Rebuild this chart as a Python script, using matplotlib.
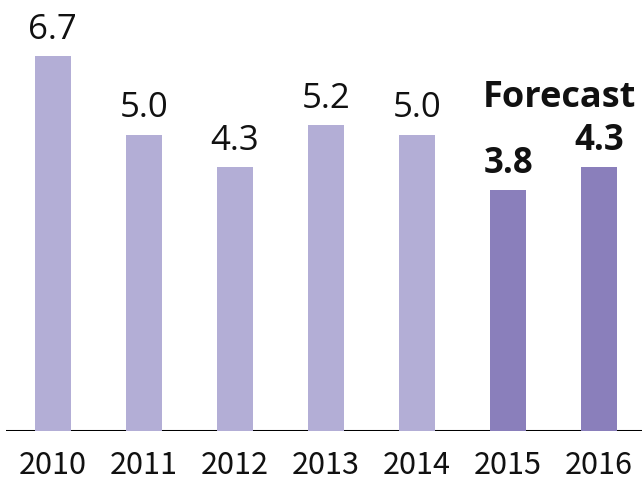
import matplotlib.pyplot as plt

years = ["2010", "2011", "2012", "2013", "2014", "2015", "2016"]
values = [6.7, 5.0, 4.3, 5.2, 5.0, 3.8, 4.3]
forecast = [False, False, False, False, False, True, True]

# value axis does not start at zero, bars grow from this base
base = -1.41
color_past = "#b3aed6"
color_forecast = "#8a7fbb"

fig = plt.figure(figsize=(6.42, 4.81), dpi=100)
ax = fig.add_axes([0.009, 0.102, 0.991, 0.898])

x = list(range(len(years)))
heights = [v - base for v in values]
colors = [color_forecast if f else color_past for f in forecast]
ax.bar(x, heights, bottom=base, width=0.4, color=colors, zorder=2)
ax.axhline(base, color="black", lw=2.2, zorder=1)

for xi, v, f in zip(x, values, forecast):
    ax.annotate("{:.1f}".format(v), (xi, v),
                xytext=(0, 13), textcoords="offset points",
                ha="center", va="baseline",
                fontsize=25, family=["Open Sans", "DejaVu Sans"],
                fontweight="bold" if f else "normal",
                color="#111111")

ax.text(5.56, 7.93 - 107 / 46.25, "Forecast", ha="center", va="baseline",
        fontsize=26, fontweight="bold", family=["Open Sans", "DejaVu Sans"],
        color="#111111")

ax.set_xlim(-0.516, 6.47)
ax.set_ylim(base, 7.93)
ax.set_xticks(x)
ax.set_xticklabels(years, fontsize=22,
                   family=["Noto Sans CJK KR", "DejaVu Sans"],
                   color="#111111")
ax.tick_params(axis="x", length=0, pad=13)
ax.set_yticks([])
for side in ["top", "right", "left", "bottom"]:
    ax.spines[side].set_visible(False)

plt.savefig("out.png", dpi=100)
